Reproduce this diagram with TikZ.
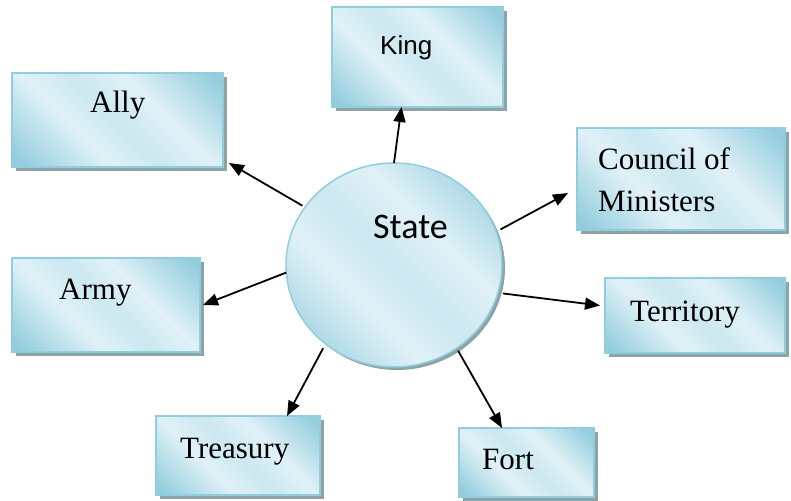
\documentclass[tikz,border=0pt]{standalone}
\usepackage{fontspec}
\setmainfont{Liberation Serif}
\newfontfamily\kingfont{Liberation Sans}
\newfontfamily\statefont{Carlito}
\usetikzlibrary{shapes.geometric,arrows.meta,shadows}

\definecolor{bdark}{RGB}{146,204,221}
\definecolor{bmid}{RGB}{204,232,240}
\definecolor{blight}{RGB}{224,241,247}
\definecolor{bborder}{RGB}{146,205,221}
\definecolor{shadowcol}{RGB}{140,163,168}

\pgfdeclarehorizontalshading{boxshade}{100bp}{%
  color(0bp)=(bdark); color(17bp)=(bdark); color(38bp)=(blight);
  color(50bp)=(bmid); color(62bp)=(blight); color(83bp)=(bdark);
  color(100bp)=(bdark)}

\tikzset{
  panel/.style={draw=bborder, line width=1.5bp, shading=boxshade, shading angle=45,
    drop shadow={opacity=1, fill=shadowcol, shadow xshift=4bp, shadow yshift=-4bp},
    inner sep=0pt, outer sep=0pt, anchor=north west},
  hub/.style={ellipse, draw=bborder, line width=1.5bp, shading=boxshade, shading angle=45,
    drop shadow={opacity=1, fill=shadowcol, shadow xshift=3bp, shadow yshift=-3bp},
    inner sep=0pt, outer sep=0pt, minimum width=216bp, minimum height=204bp},
  label/.style={anchor=base west, inner sep=0pt, font=\fontsize{31bp}{42bp}\selectfont},
  arr/.style={line width=1.8bp, -{Triangle[length=15bp,width=12bp]}}
}

\begin{document}
\begin{tikzpicture}[x=1bp,y=-1bp]
\fill[white] (0,0) rectangle (791,501);
\useasboundingbox (0,0) rectangle (791,501);

% outer boxes
\node[panel, minimum width=171bp, minimum height=100bp] (king) at (332,7) {};
\node[panel, minimum width=211bp, minimum height=94bp] (ally) at (12,73) {};
\node[panel, minimum width=208bp, minimum height=102bp] (council) at (577,128) {};
\node[panel, minimum width=188bp, minimum height=94bp] (army) at (12,258) {};
\node[panel, minimum width=180bp, minimum height=75bp] (territory) at (605,278) {};
\node[panel, minimum width=164bp, minimum height=79bp] (treasury) at (156,416) {};
\node[panel, minimum width=135bp, minimum height=69bp] (fort) at (459,428) {};

% central ellipse
\node[hub] (state) at (394,265) {};

% texts
\node[anchor=base west, inner sep=0pt, font=\kingfont\fontsize{26bp}{30bp}\selectfont] (tking) at (380,55) {King};
\node[anchor=base west, inner sep=0pt, font=\statefont\fontsize{36bp}{40bp}\selectfont] (tstate) at (373,239) {State};
\node[label] (tally) at (90,113) {Ally};
\node[label] (tcouncil1) at (598,170) {Council of};
\node[label] (tcouncil2) at (598,212) {Ministers};
\node[label] (tarmy) at (59,300) {Army};
\node[label] (tterritory) at (630,321) {Territory};
\node[label] (ttreasury) at (180,458) {Treasury};
\node[label] (tfort) at (482,469) {Fort};

% connectors
\draw[arr] (state.north) -- ([xshift=-16bp]king.south);
\draw[arr, shorten <=3bp] (state.147) -- ([xshift=6bp,yshift=4bp]ally.south east);
\draw[arr, shorten <=5bp] (state.18) -- ([xshift=-9bp,yshift=-14bp]council.west);
\draw[arr] (state.184) -- ([xshift=3bp]army.east);
\draw[arr, shorten <=5bp] (state.345) -- ([xshift=-5bp,yshift=10bp]territory.west);
\draw[arr, shorten <=3bp] (state.307) -- ([xshift=43bp]fort.north west);
\draw[arr, shorten <=5bp] (state.229) -- ([xshift=-33bp]treasury.north east);
\end{tikzpicture}
\end{document}
